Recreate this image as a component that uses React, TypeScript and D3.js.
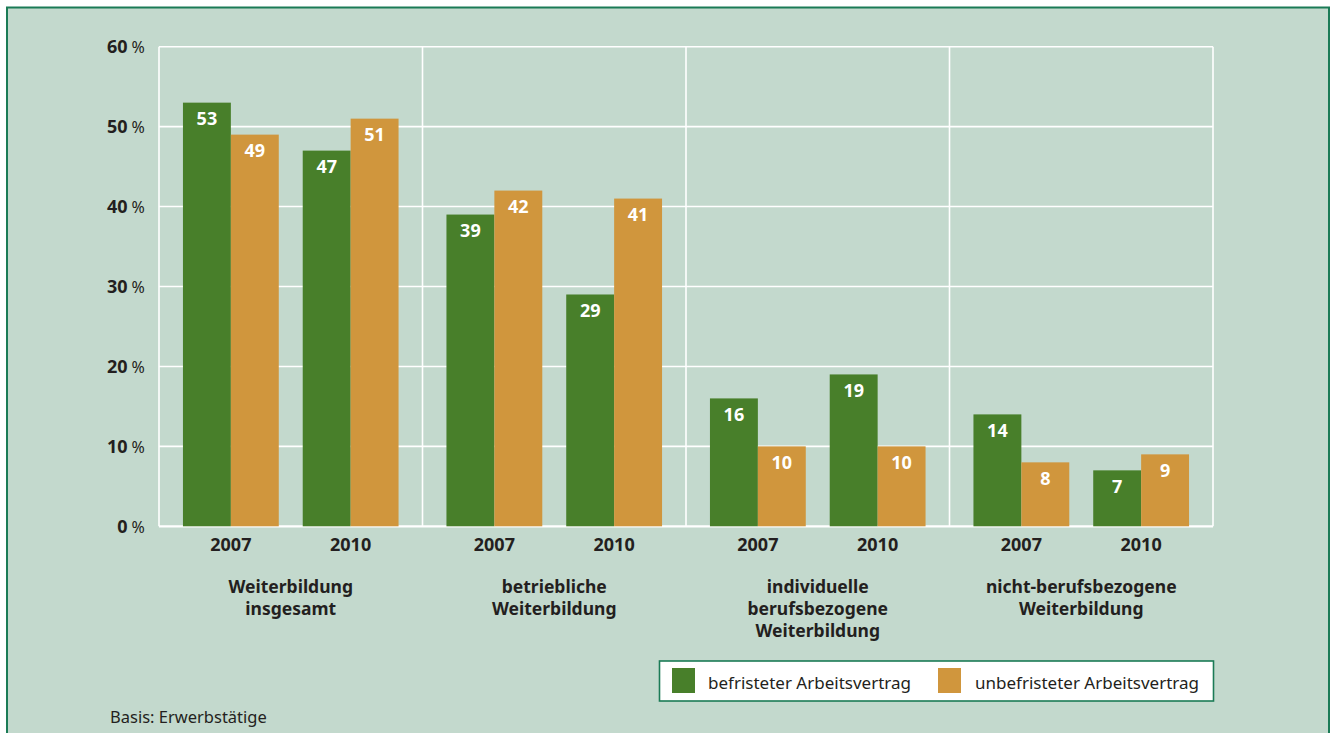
import React from "react";
import * as d3 from "d3";

const groups: string[][] = [
  ["Weiterbildung", "insgesamt"],
  ["betriebliche", "Weiterbildung"],
  ["individuelle", "berufsbezogene", "Weiterbildung"],
  ["nicht-berufsbezogene", "Weiterbildung"],
];
const years = ["2007", "2010"];
const seriesNames = ["befristeter Arbeitsvertrag", "unbefristeter Arbeitsvertrag"];
// values per group, per year
const befristet = [
  [53, 47],
  [39, 29],
  [16, 19],
  [14, 7],
];
const unbefristet = [
  [49, 51],
  [42, 41],
  [10, 10],
  [8, 9],
];
const yTicks = [0, 10, 20, 30, 40, 50, 60];

const W = 1330;
const H = 733;
const BG = "#c3d9cd";
const BORDER = "#1b7b56";
const GREEN = "#487f2a";
const ORANGE = "#d0963d";
const TEXT = "#231f20";
const FONT = "'Noto Sans', 'Open Sans', sans-serif";

export default function App() {
  const left = 159;
  const right = 1213;
  const top = 46.7;
  const bottom = 526.3;

  const y = d3.scaleLinear().domain([0, 60]).range([bottom, top]);
  const gx = d3
    .scaleBand<number>()
    .domain(d3.range(groups.length))
    .range([left, right])
    .padding(0);
  const yx = d3
    .scaleBand<string>()
    .domain(years)
    .range([0, gx.bandwidth()])
    .paddingInner(0.2)
    .paddingOuter(0.2);
  const sx = d3
    .scaleBand<number>()
    .domain([0, 1])
    .range([0, yx.bandwidth()])
    .padding(0);
  const colors = [GREEN, ORANGE];
  const series = [befristet, unbefristet];

  const bars: JSX.Element[] = [];
  const labels: JSX.Element[] = [];
  groups.forEach((_, gi) => {
    years.forEach((yr, yi) => {
      series.forEach((s, si) => {
        const v = s[gi][yi];
        const x0 = gx(gi)! + yx(yr)! + sx(si)!;
        const bw = sx.bandwidth();
        bars.push(
          <rect
            key={`b-${gi}-${yi}-${si}`}
            x={x0}
            y={y(v)}
            width={bw}
            height={y(0) - y(v)}
            fill={colors[si]}
          />
        );
        labels.push(
          <text
            key={`l-${gi}-${yi}-${si}`}
            x={x0 + bw / 2}
            y={y(v) + 22.5}
            textAnchor="middle"
            fill="#ffffff"
            fontWeight={700}
            fontSize={18}
          >
            {v}
          </text>
        );
      });
    });
  });

  return (
    <div style={{ position: "fixed", left: 0, top: 0, width: W, height: H }}>
      <svg width={W} height={H} style={{ display: "block", fontFamily: FONT }}>
        <rect x={0} y={0} width={W} height={H} fill="#ffffff" />
        <rect x={7} y={7.5} width={1322} height={H + 20} fill={BG} stroke={BORDER} strokeWidth={2} />

        {/* gridlines */}
        {yTicks.map((t) => (
          <line
            key={`g-${t}`}
            x1={left}
            x2={right}
            y1={y(t)}
            y2={y(t)}
            stroke="#ffffff"
            strokeWidth={t === 0 ? 2.2 : 1.6}
          />
        ))}
        {d3.range(groups.length + 1).map((i) => {
          const xv = i < groups.length ? gx(i)! : right;
          return (
            <line
              key={`v-${i}`}
              x1={xv}
              x2={xv}
              y1={top}
              y2={bottom}
              stroke="#ffffff"
              strokeWidth={1.6}
            />
          );
        })}

        {bars}
        {labels}

        {/* y axis labels */}
        {yTicks.map((t) => (
          <g key={`yl-${t}`}>
            <text
              x={127.5}
              y={y(t) + 6.5}
              textAnchor="end"
              fontWeight={700}
              fontSize={18}
              fill={TEXT}
            >
              {t}
            </text>
            <text x={131.5} y={y(t) + 6.5} textAnchor="start" fontSize={16} fill={TEXT}>
              %
            </text>
          </g>
        ))}

        {/* year labels */}
        {groups.map((_, gi) =>
          years.map((yr) => (
            <text
              key={`yr-${gi}-${yr}`}
              x={gx(gi)! + yx(yr)! + yx.bandwidth() / 2}
              y={551}
              textAnchor="middle"
              fontWeight={700}
              fontSize={18}
              fill={TEXT}
            >
              {yr}
            </text>
          ))
        )}

        {/* group labels */}
        {groups.map((lines, gi) => (
          <text
            key={`gl-${gi}`}
            x={gx(gi)! + gx.bandwidth() / 2}
            y={593}
            textAnchor="middle"
            fontWeight={700}
            fontSize={17.5}
            fill={TEXT}
          >
            {lines.map((ln, li) => (
              <tspan key={li} x={gx(gi)! + gx.bandwidth() / 2} dy={li === 0 ? 0 : 22}>
                {ln}
              </tspan>
            ))}
          </text>
        ))}

        {/* legend */}
        <rect x={659.5} y={661} width={554} height={40} fill="#ffffff" stroke={BORDER} strokeWidth={1.6} />
        <rect x={672} y={668} width={23} height={25} fill={GREEN} />
        <text x={708} y={689} fontSize={17} fill={TEXT}>
          {seriesNames[0]}
        </text>
        <rect x={938} y={668} width={23} height={25} fill={ORANGE} />
        <text x={975} y={689} fontSize={17} fill={TEXT}>
          {seriesNames[1]}
        </text>

        <text x={110} y={722.5} fontSize={16.5} fill={TEXT}>
          Basis: Erwerbstätige
        </text>
      </svg>
    </div>
  );
}
